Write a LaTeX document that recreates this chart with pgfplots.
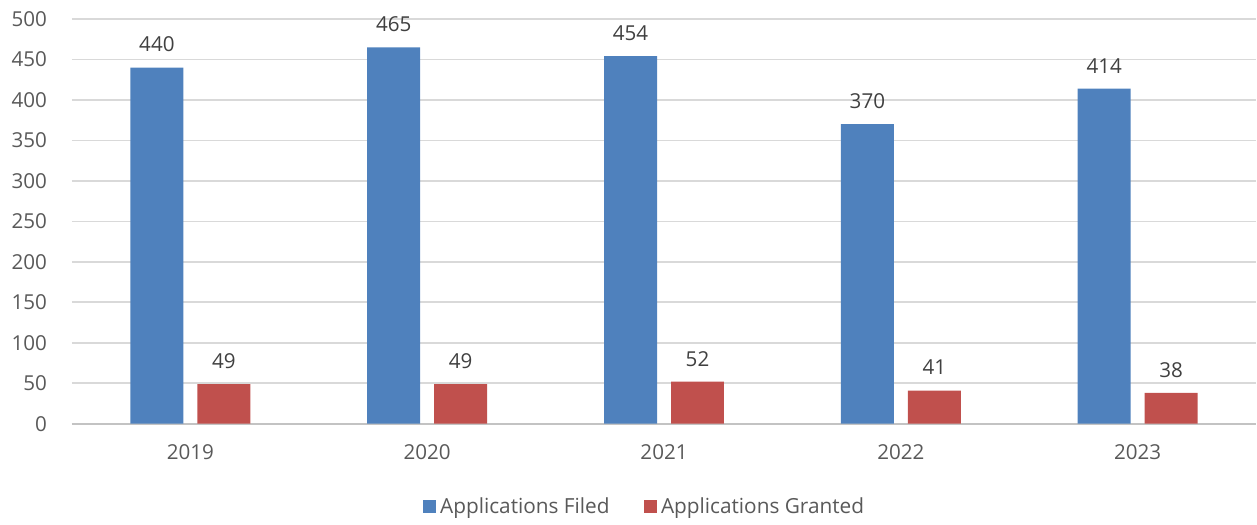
\documentclass[border=0pt]{standalone}
\usepackage{pgfplots}
\pgfplotsset{compat=1.18}
\usepackage{fontspec}
\setmainfont{Open Sans}
\definecolor{cblue}{HTML}{4F81BD}
\definecolor{cred}{HTML}{C0504D}
\definecolor{cgrid}{HTML}{D9D9D9}
\definecolor{ctick}{HTML}{595959}
\definecolor{clab}{HTML}{404040}
\begin{document}
\begin{tikzpicture}
\path (0,0) rectangle (628.5pt,-260.5pt);
\begin{axis}[
  at={(36pt,-212pt)}, anchor=south west,
  scale only axis,
  width=592.5pt, height=202.5pt,
  ybar, bar width=26.5pt,
  xmin=-0.5, xmax=4.5,
  ymin=0, ymax=500,
  ytick={0,50,...,500},
  xtick={0,1,2,3,4},
  xticklabels={2019,2020,2021,2022,2023},
  axis line style={draw=none},
  major tick length=0pt,
  ymajorgrids,
  grid style={cgrid, line width=0.8pt},
  tick label style={font=\fontsize{10.3}{12}\selectfont, text=ctick},
  /pgf/number format/assume math mode=true,
  yticklabel style={xshift=-9pt},
  xticklabel style={yshift=-7pt},
  extra y ticks={0},
  extra y tick labels={},
  extra y tick style={grid style={cgrid!90!black, line width=0.9pt}},
  legend style={at={(0.4843,-0.205)}, anchor=center, draw=none, legend columns=2,
    font=\fontsize{10.4}{12}\selectfont, text=ctick,
    /tikz/every even column/.append style={column sep=15pt}},
  legend image code/.code={\fill[#1] (0pt,-3.3pt) rectangle (6.7pt,3.3pt);},
  nodes near coords,
  nodes near coords style={font=\fontsize{10.3}{12}\selectfont, text=clab, anchor=base, inner sep=0pt, yshift=7.8pt},
]
\addplot+[bar shift=-16.75pt, fill=cblue, draw=none] coordinates {(0,440) (1,465) (2,454) (3,370) (4,414)};
\addplot+[bar shift=16.75pt, fill=cred, draw=none] coordinates {(0,49) (1,49) (2,52) (3,41) (4,38)};
\legend{Applications Filed, Applications Granted}
\end{axis}
\end{tikzpicture}
\end{document}
